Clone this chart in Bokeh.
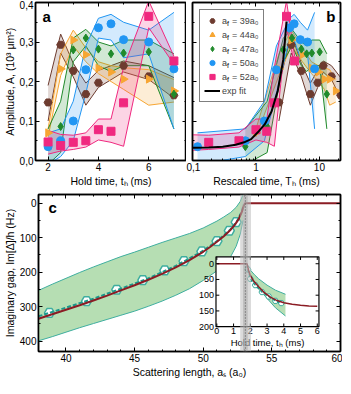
import math
from bokeh.plotting import figure
from bokeh.layouts import column, row
from bokeh.models import (Range1d, FixedTicker, LinearAxis, LogAxis, LogTicker,
                          CustomJSTickFormatter, Legend, LegendItem,
                          BoxAnnotation, Span)
from bokeh.core.properties import value
from bokeh.embed import file_html
from bokeh.resources import INLINE

FONT = "Liberation Sans"

# ---------------- panel a / b data ----------------
hold_t = [2, 2.5, 3, 3.5, 4, 4.5, 5, 6, 7]
hold_t39 = [2, 2.5, 3, 3.5, 4, 5, 6, 7]

amp39 = [0.147, 0.293, 0.227, 0.168, 0.197, 0.240, 0.213, 0.165]
lo39 = [0.100, 0.272, 0.212, 0.140, 0.185, 0.224, 0.205, 0.158]
hi39 = [0.190, 0.320, 0.246, 0.196, 0.228, 0.252, 0.240, 0.210]

amp44 = [0.070, 0.232, 0.305, 0.268, 0.234, 0.224, 0.206, 0.206, 0.176]
lo44 = [0.060, 0.215, 0.290, 0.250, 0.220, 0.200, 0.180, 0.140, 0.148]
hi44 = [0.080, 0.270, 0.330, 0.285, 0.250, 0.240, 0.235, 0.230, 0.205]

amp47 = [0.035, 0.086, 0.280, 0.310, 0.282, 0.270, 0.272, 0.275, 0.168]
lo47 = [-0.010, 0.020, 0.250, 0.290, 0.240, 0.225, 0.240, 0.240, 0.080]
hi47 = [0.080, 0.150, 0.310, 0.332, 0.300, 0.290, 0.305, 0.305, 0.270]

amp50 = [0.035, 0.050, 0.100, 0.230, 0.336, 0.346, 0.306, 0.300, 0.232]
lo50 = [-0.010, 0.010, 0.050, 0.170, 0.310, 0.305, 0.260, 0.270, 0.080]
hi50 = [0.070, 0.080, 0.150, 0.290, 0.360, 0.370, 0.350, 0.330, 0.375]

amp52 = [0.047, 0.038, 0.046, 0.050, 0.078, 0.074, 0.146, 0.365, 0.252]
lo52 = [0.016, 0.024, 0.028, 0.034, 0.052, 0.046, 0.036, 0.336, 0.244]
hi52 = [0.076, 0.066, 0.064, 0.070, 0.105, 0.105, 0.236, 0.404, 0.264]

# rescaled time T_h of the same measurements (panel b)
resc39 = [2.3, 3.6, 5.2, 7.2, 9.4, 11.5, 15.5, 21.6]
resc44 = [1.0, 2.3, 3.6, 5.4, 7.5, 9.6, 12.0, 14.5, 18.1]
resc47 = [0.68, 1.5, 2.7, 3.7, 5.2, 6.3, 7.6, 10.1, 13.1]
resc50 = [0.12, 0.68, 1.36, 2.1, 3.4, 4.0, 5.0, 6.5, 8.4]
resc52 = [0.02, 0.06, 0.18, 0.54, 1.0, 1.48, 1.95, 3.03, 4.07]

fit_T = [0.1, 0.18, 0.3, 0.48, 0.65, 0.84, 1.08, 1.38, 1.76, 2.2, 2.7, 3.03]
fit_A = [0.032, 0.033, 0.035, 0.040, 0.046, 0.054, 0.072, 0.092, 0.124, 0.176, 0.256, 0.352]

labels_af = ["a  = 39a₀", "a  = 44a₀", "a  = 47a₀", "a  = 50a₀", "a  = 52a₀"]
colors = ["#6d3b2f", "#f7a633", "#208a2b", "#2196f3", "#f0287f"]
markers = ["hex", "triangle", "diamond", "circle", "square"]
angles = [0, -90, 0, 0, 0]
times = [hold_t39, hold_t, hold_t, hold_t, hold_t]
rescaled = [resc39, resc44, resc47, resc50, resc52]
amps = [amp39, amp44, amp47, amp50, amp52]
lows = [lo39, lo44, lo47, lo50, lo52]
highs = [hi39, hi44, hi47, hi50, hi52]

# ---------------- panel c data ----------------
c_band_x = [38, 39, 40, 41, 42, 43, 44, 45, 46, 47, 48, 49, 50, 51, 51.5, 52, 52.4, 52.7, 52.9]
c_band_top = [253, 235, 218, 201, 185, 170, 155, 142, 128, 114, 101, 88, 72, 52, 40, 27, 12, -5, -25]
c_band_bot = [399, 387, 374, 361, 349, 337, 325, 313, 299, 284, 267, 248, 224, 196, 178, 155, 125, 90, 50]

c_fit_x = [38, 39, 40, 41, 42, 43, 44, 45, 46, 47, 48, 49, 50, 50.5, 51, 51.5, 52, 52.3, 52.6, 52.8, 52.95, 53.05, 60]
c_fit_y = [335, 322, 309, 296, 282, 268, 253, 238, 222, 205, 186, 165, 141, 127, 112, 96, 77, 63, 45, 27, 8, 0, 0]

c_dash_x = [38, 40, 42, 44, 46, 48, 50, 51, 52, 52.5, 52.8, 52.95]
c_dash_y = [328, 303, 277, 248, 218, 182, 138, 110, 76, 50, 25, 5]

c_pts_x = [38.8, 41.5, 43.7, 45.6, 47.2, 48.6, 49.9, 51.0, 51.9, 52.4]
c_pts_y = [318, 284, 251, 223, 195, 168, 140, 110, 80, 55]

thr_outer = [52.69, 53.48]
thr_inner = [52.9, 53.24]
thr_center = 53.07

ins_fit_t = [0, 1.8, 1.9, 2.0, 2.2, 2.5, 2.8, 3.2, 3.6, 4.0, 4.5, 5.0, 5.5, 6.0]
ins_fit_y = [0, 0, 22, 37, 55, 73, 90, 106, 117, 124, 129, 132, 134, 135]
ins_band_t = [1.8, 2.0, 2.25, 2.5, 3.0, 3.5, 4.1]
ins_band_top = [0, 20, 35, 48, 68, 84, 97]
ins_band_bot = [10, 45, 62, 80, 110, 140, 166]
ins_pts_t = [1.85, 2.0, 2.3, 2.7, 3.1, 3.5, 3.85]
ins_pts_y = [18, 48, 68, 90, 104, 118, 125]
ins_xticks = [0, 1, 2, 3, 4, 5, 6]
ins_yticks = [0, 50, 100, 150, 200]

# ---------------- helpers ----------------
comma1 = CustomJSTickFormatter(code="return tick.toFixed(1).replace('.', ',');")
logfmt = CustomJSTickFormatter(code="return tick < 0.99 ? tick.toFixed(1).replace('.', ',') : tick.toFixed(0);")
blank = CustomJSTickFormatter(code="return '';")


def style_axis(ax, label_size="10px"):
    ax.major_tick_in = 4
    ax.major_tick_out = 0
    ax.minor_tick_in = 2
    ax.minor_tick_out = 0
    ax.axis_line_width = 1.5
    ax.major_tick_line_width = 1
    ax.minor_tick_line_width = 1
    ax.major_label_text_font = FONT
    ax.major_label_text_font_size = label_size
    ax.major_label_text_color = "black"
    ax.axis_label_text_font = FONT
    ax.axis_label_text_font_style = "normal"
    ax.axis_label_text_font_size = "10.5px"
    ax.axis_label_text_color = "black"
    ax.major_label_standoff = 2
    ax.axis_label_standoff = 1


def mirror(p, place, ticker, log=False):
    ax = (LogAxis if log else LinearAxis)(ticker=ticker, formatter=blank)
    style_axis(ax)
    ax.major_label_standoff = 0
    ax.axis_label_standoff = 0
    p.add_layout(ax, place)


def base_fig(**kw):
    p = figure(output_backend="svg", toolbar_location=None, min_border=0, **kw)
    p.grid.visible = False
    p.outline_line_color = "black"
    p.outline_line_width = 1.5
    p.background_fill_color = "white"
    return p


# ---------------- panel a ----------------
pa = base_fig(frame_width=151, frame_height=158, x_range=Range1d(1.5, 7.5), y_range=Range1d(0, 0.4),
              min_border_top=2)
xt_a = FixedTicker(ticks=[2, 4, 6], minor_ticks=[3, 5, 7])
yt_a = FixedTicker(ticks=[0, 0.1, 0.2, 0.3, 0.4], minor_ticks=[0.05, 0.15, 0.25, 0.35])
pa.xaxis.ticker = xt_a
pa.yaxis.ticker = yt_a
pa.yaxis.formatter = comma1
pa.xaxis.axis_label = "Hold time, tₕ (ms)"
pa.yaxis.axis_label = "Amplitude, A, (10³ μm²)"
style_axis(pa.xaxis[0])
style_axis(pa.yaxis[0])
mirror(pa, "right", yt_a)
mirror(pa, "above", xt_a)

for t, lo, hi, c in zip(times, lows, highs, colors):
    pa.varea(x=t, y1=lo, y2=hi, fill_color=c, fill_alpha=0.2)
    pa.line(t, lo, line_color=c, line_width=1)
    pa.line(t, hi, line_color=c, line_width=1)
for t, a, c, m, ang in zip(times, amps, colors, markers, angles):
    pa.scatter(t, a, marker=m, size=8, fill_color=c, line_color=c, angle=ang, angle_units="deg")

pa.text(x=[pa.x_range.start], y=[pa.y_range.end], text=["a"], x_offset=7, y_offset=5,
        text_font=value(FONT), text_font_size="15px", text_font_style="bold",
        text_baseline="top", text_align="left", text_color="black")

# ---------------- panel b ----------------
pb = base_fig(frame_width=148, frame_height=158, x_axis_type="log", x_range=Range1d(0.1, 21.5),
              y_range=Range1d(0, 0.4), min_border_top=2, min_border_left=6, min_border_right=2)
pb.xaxis.formatter = logfmt
pb.xaxis.axis_label = "Rescaled time, Tₕ (ms)"
pb.yaxis.ticker = yt_a
pb.yaxis.formatter = blank
style_axis(pb.xaxis[0])
style_axis(pb.yaxis[0])
pb.yaxis.major_label_standoff = 0
mirror(pb, "right", yt_a)
mirror(pb, "above", LogTicker(), log=True)

for t, lo, hi, c in zip(rescaled, lows, highs, colors):
    pb.varea(x=t, y1=lo, y2=hi, fill_color=c, fill_alpha=0.2)
    pb.line(t, lo, line_color=c, line_width=1)
    pb.line(t, hi, line_color=c, line_width=1)
b_renderers = []
for t, a, c, m, ang in zip(rescaled, amps, colors, markers, angles):
    b_renderers.append(pb.scatter(t, a, marker=m, size=8, fill_color=c, line_color=c,
                                  angle=ang, angle_units="deg"))
fit_r = pb.line(fit_T, fit_A, line_color="black", line_width=2)

items = [LegendItem(label=value(l), renderers=[r]) for l, r in zip(labels_af, b_renderers)]
items.append(LegendItem(label=value("exp fit"), renderers=[fit_r]))
LEG_M, LEG_P, GW, GH, SP, LS = 7, 4, 16, 13, 1, 2
legend = Legend(items=items, location="top_left", margin=LEG_M, padding=LEG_P, spacing=SP,
                glyph_width=GW, glyph_height=GH, label_height=GH, label_standoff=LS,
                label_text_font=FONT, label_text_font_size="9px",
                border_line_color="black", border_line_width=1, background_fill_alpha=0)
pb.add_layout(legend)
sub_x = LEG_M + LEG_P + GW + LS + 5.5
sub_y = [LEG_M + LEG_P + i * (GH + SP) + GH / 2 + 3.5 for i in range(5)]
pb.text(x=[pb.x_range.start] * 5, y=[pb.y_range.end] * 5, text=["f"] * 5,
        x_offset=sub_x, y_offset=sub_y, text_font=value(FONT), text_font_size="7px",
        text_baseline="middle", text_align="left", text_color="black")

pb.text(x=[pb.x_range.end], y=[pb.y_range.end], text=["b"], x_offset=-5, y_offset=5,
        text_font=value(FONT), text_font_size="15px", text_font_style="bold",
        text_baseline="top", text_align="right", text_color="black")

# ---------------- panel c ----------------
pc = base_fig(frame_width=302, frame_height=157, x_range=Range1d(38, 60), y_range=Range1d(430, -25),
              min_border_top=5, min_border_right=2)
xt_c = FixedTicker(ticks=[40, 45, 50, 55, 60], minor_ticks=list(range(38, 61)))
yt_c = FixedTicker(ticks=[0, 100, 200, 300, 400], minor_ticks=[50, 150, 250, 350])
pc.xaxis.ticker = xt_c
pc.yaxis.ticker = yt_c
pc.xaxis.axis_label = "Scattering length, aₛ (a₀)"
pc.yaxis.axis_label = "Imaginary gap, Im[Δ̄]/h (Hz)"
style_axis(pc.xaxis[0])
style_axis(pc.yaxis[0])
mirror(pc, "right", yt_c)
mirror(pc, "above", xt_c)

TEAL = "#3fae9f"
RED = "#8b1c24"
pc.varea(x=c_band_x, y1=c_band_top, y2=c_band_bot, fill_color="#a9d8a6", fill_alpha=0.85)
pc.line(c_band_x, c_band_top, line_color=TEAL, line_width=1)
pc.line(c_band_x, c_band_bot, line_color=TEAL, line_width=1)
pc.scatter(c_pts_x, c_pts_y, marker="hex", size=10, fill_color="white", line_color=TEAL, line_width=1.5)
pc.line(c_dash_x, c_dash_y, line_color="#1a998c", line_width=2, line_dash="4 2")
pc.line(c_fit_x, c_fit_y, line_color=RED, line_width=2)

pc.text(x=[pc.x_range.start], y=[pc.y_range.end], text=["c"], x_offset=10, y_offset=4,
        text_font=value(FONT), text_font_size="15px", text_font_style="bold",
        text_baseline="top", text_align="left", text_color="black")

# inset (sub-coordinates inside panel c)
ins_xr = Range1d(-0.05, 6.1)
ins_yr = Range1d(200, -22)
ins = pc.subplot(x_source=ins_xr, y_source=ins_yr,
                 x_target=Range1d(50.93, 58.43), y_target=Range1d(358, 155.6))
ins.quad(left=[ins_xr.start], right=[ins_xr.end], top=[ins_yr.end], bottom=[ins_yr.start],
         fill_color="white", line_color=None)

pc.add_layout(BoxAnnotation(left=thr_outer[0], right=thr_outer[1], fill_color="#bdbdbd",
                            fill_alpha=0.55, line_color=None))
pc.add_layout(BoxAnnotation(left=thr_inner[0], right=thr_inner[1], fill_color="#9e9e9e",
                            fill_alpha=0.45, line_color=None))
pc.add_layout(Span(location=thr_center, dimension="height", line_color="#555555",
                   line_width=1, line_dash="1 2"))

ins.varea(x=ins_band_t, y1=ins_band_top, y2=ins_band_bot, fill_color="#a9d8a6", fill_alpha=0.85)
ins.line(ins_band_t, ins_band_top, line_color=TEAL, line_width=1)
ins.line(ins_band_t, ins_band_bot, line_color=TEAL, line_width=1)
ins.scatter(ins_pts_t, ins_pts_y, marker="hex", size=6, fill_color="white", line_color=TEAL, line_width=1)
ins.line(ins_pts_t, ins_pts_y, line_color="#1a998c", line_width=1.5, line_dash="3 2")
ins.line(ins_fit_t, ins_fit_y, line_color=RED, line_width=1.5)
ins.quad(left=[ins_xr.start], right=[ins_xr.end], top=[ins_yr.end], bottom=[ins_yr.start],
         fill_color=None, line_color="black", line_width=1.2)

x0, x1 = ins_xr.start, ins_xr.end
yb, ytop = ins_yr.start, ins_yr.end
n = len(ins_yticks)
ins.segment(x0=[x0] * n, y0=ins_yticks, x1=[x0 + 0.2] * n, y1=ins_yticks, line_color="black", line_width=1)
ins.segment(x0=[x1] * n, y0=ins_yticks, x1=[x1 - 0.2] * n, y1=ins_yticks, line_color="black", line_width=1)
m = len(ins_xticks)
ins.segment(x0=ins_xticks, y0=[yb] * m, x1=ins_xticks, y1=[yb - 10] * m, line_color="black", line_width=1)
ins.segment(x0=ins_xticks, y0=[ytop] * m, x1=ins_xticks, y1=[ytop + 10] * m, line_color="black", line_width=1)
ins.text(x=[x0] * n, y=ins_yticks, text=[str(v) for v in ins_yticks], x_offset=-2,
         text_align="right", text_baseline="middle", text_font=value(FONT), text_font_size="9px",
         text_color="black")
ins.text(x=ins_xticks, y=[yb] * m, text=[str(v) for v in ins_xticks], y_offset=1,
         text_align="center", text_baseline="top", text_font=value(FONT), text_font_size="9px",
         text_color="black")
ins.text(x=[(x0 + x1) / 2], y=[yb], text=["Hold time, tₕ (ms)"], y_offset=10,
         text_align="center", text_baseline="top", text_font=value(FONT), text_font_size="9.5px",
         text_color="black")

layout = column(row(pa, pb), pc)
open("out.html", "w").write(file_html(layout, INLINE))
